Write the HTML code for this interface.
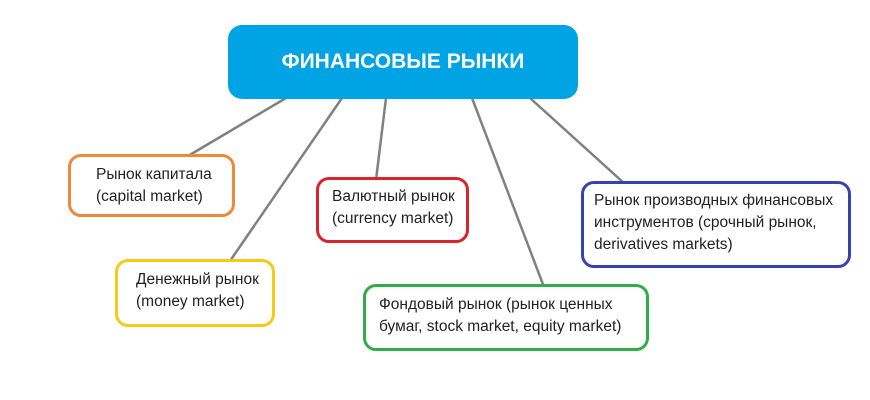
<!DOCTYPE html>
<html><head><meta charset="utf-8"><style>
body{margin:0;background:#fff;width:870px;height:400px;position:relative;overflow:hidden;font-family:"Liberation Sans Narrow","Liberation Sans",sans-serif}
.b{position:absolute;box-sizing:border-box;border:3px solid;border-radius:13px;background:#fff;font-size:15.5px;line-height:22px;color:#222}
.b span{position:absolute;white-space:nowrap}
</style></head><body>
<svg width="870" height="400" style="position:absolute;left:0;top:0">
<g stroke="#808080" stroke-width="2.5">
<line x1="286" y1="98" x2="188" y2="156"/>
<line x1="342" y1="98" x2="230" y2="261"/>
<line x1="386" y1="98" x2="376" y2="180"/>
<line x1="472" y1="98" x2="544" y2="287"/>
<line x1="530" y1="98" x2="625" y2="184"/>
</g></svg>
<div style="position:absolute;left:228px;top:25px;width:350px;height:74px;background:#00a3e4;border-radius:14px;color:#fff;font-weight:bold;font-size:21px;line-height:74px;text-align:center">ФИНАНСОВЫЕ РЫНКИ</div>
<div class="b" style="left:68px;top:154px;width:167px;height:63px;border-color:#f0883a"><span style="left:25px;top:7px">Рынок капитала<br>(capital market)</span></div>
<div class="b" style="left:115px;top:259px;width:160px;height:68px;border-color:#f5c919"><span style="left:18px;top:7px">Денежный рынок<br>(money market)</span></div>
<div class="b" style="left:316px;top:177px;width:153px;height:66px;border-color:#d8252d"><span style="left:13px;top:6px">Валютный рынок<br>(currency market)</span></div>
<div class="b" style="left:363px;top:284px;width:286px;height:67px;border-color:#2fae47"><span style="left:13px;top:7px">Фондовый рынок (рынок ценных<br>бумаг, stock market, equity market)</span></div>
<div class="b" style="left:581px;top:181px;width:270px;height:87px;border-color:#3542b0"><span style="left:10px;top:6px">Рынок производных финансовых<br>инструментов (срочный рынок,<br>derivatives markets)</span></div>
</body></html>
